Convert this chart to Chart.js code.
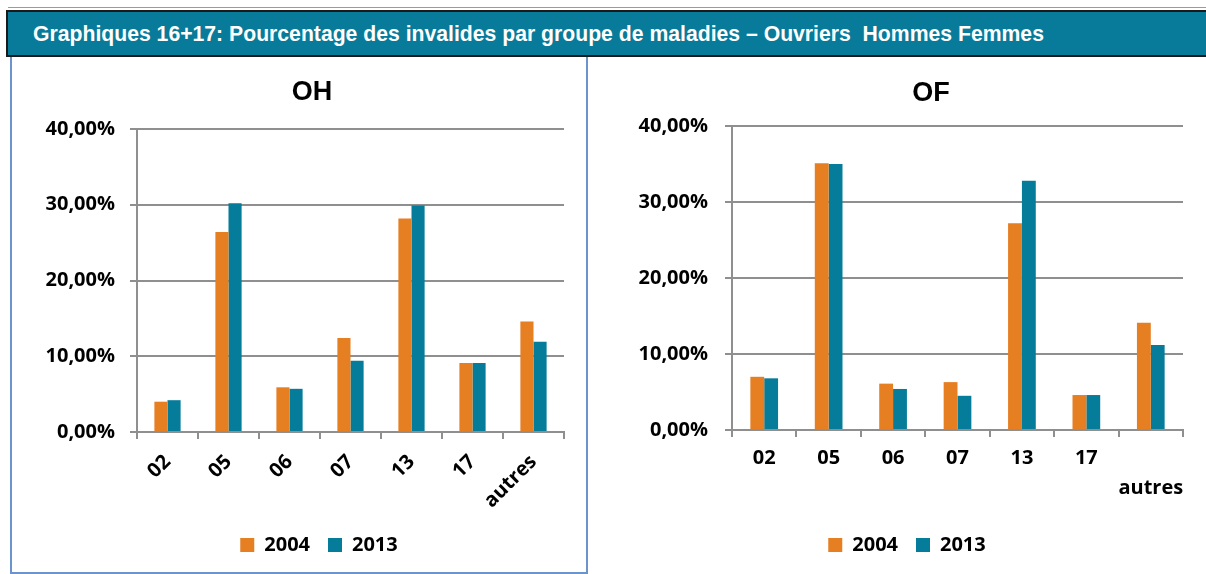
<!DOCTYPE html>
<html>
<head>
<meta charset="utf-8">
<script src="https://cdn.jsdelivr.net/npm/chart.js@4.4.1/dist/chart.umd.min.js"></script>
<style>
  body { margin: 0; width: 1206px; height: 574px; background: #fff; position: relative; overflow: hidden; }
  #topline { position: absolute; left: 8px; top: 7px; width: 1198px; height: 1px; background: #7da0d0; }
  #header {
    position: absolute; left: 6px; top: 10px; width: 1200px; height: 47px; box-sizing: border-box;
    background: #077b99; border-top: 2px solid #1a1a1a; border-bottom: 2px solid #1a1a1a; border-left: 2px solid #1a1a1a;
    color: #fff; font-family: "Liberation Sans", Arial, sans-serif; font-weight: bold; font-size: 21.2px;
    line-height: 43px; padding-left: 25px; white-space: pre;
  }
  #panelLeft {
    position: absolute; left: 10px; top: 57px; width: 578px; height: 517px; box-sizing: border-box;
    border-left: 2px solid #6c94cc; border-right: 2px solid #6c94cc; border-bottom: 2px solid #6c94cc;
  }
  #chartOH { position: absolute; left: 12px; top: 58px; }
  #chartOF { position: absolute; left: 589px; top: 58px; }
</style>
</head>
<body>
<div id="topline"></div>
<div id="header">Graphiques 16+17: Pourcentage des invalides par groupe de maladies – Ouvriers  Hommes Femmes</div>
<div id="panelLeft"></div>
<canvas id="chartOH" width="574" height="514"></canvas>
<canvas id="chartOF" width="617" height="514"></canvas>
<script>
// data (percent)
const categoriesOH = ["02", "05", "06", "07", "13", "17", "autres"];
const categoriesOF = ["02", "05", "06", "07", "13", "17", ["", "autres"]];
const years = ["2004", "2013"];
const oh2004 = [4.0, 26.4, 5.9, 12.4, 28.2, 9.1, 14.6];
const oh2013 = [4.2, 30.2, 5.7, 9.4, 29.9, 9.1, 11.9];
const of2004 = [7.0, 35.1, 6.1, 6.3, 27.2, 4.6, 14.1];
const of2013 = [6.8, 35.0, 5.4, 4.5, 32.8, 4.6, 11.2];
const yTicks = [0, 10, 20, 30, 40];

const ORANGE = "#e67e22";
const TEAL = "#057c9a";
const GRID = "#8f8f8f";

Chart.defaults.font.family = '"Open Sans", sans-serif';
Chart.defaults.font.weight = "bold";
Chart.defaults.color = "#000";

// move title and legend sideways (Excel does not center them on the canvas)
const boxShift = {
  id: "boxShift",
  afterLayout(chart, args, opts) {
    if (chart.titleBlock && opts.titleDx) {
      chart.titleBlock.left += opts.titleDx;
      chart.titleBlock.right += opts.titleDx;
    }
    if (chart.legend && opts.legendDx) {
      chart.legend.left += opts.legendDx;
      chart.legend.right += opts.legendDx;
    }
  }
};

function makeChart(id, cfg) {
  const ctx = document.getElementById(id).getContext("2d");
  return new Chart(ctx, {
    type: "bar",
    data: {
      labels: cfg.labels,
      datasets: [
        { label: years[0], data: cfg.a, backgroundColor: ORANGE },
        { label: years[1], data: cfg.b, backgroundColor: TEAL },
      ],
    },
    plugins: [boxShift],
    options: {
      responsive: false,
      animation: false,
      categoryPercentage: 0.43,
      barPercentage: 1,
      layout: { padding: { left: 0, right: cfg.padRight, top: 0, bottom: 7 } },
      plugins: {
        title: {
          display: true,
          text: cfg.title,
          font: { family: '"Liberation Sans", Arial, sans-serif', size: 27, weight: "bold" },
          padding: { top: cfg.titleTop, bottom: cfg.titleBottom },
        },
        legend: {
          position: "bottom",
          labels: { boxWidth: 14, boxHeight: 14, padding: 18, font: { size: 20 } },
        },
        boxShift: { titleDx: cfg.titleDx, legendDx: cfg.legendDx },
        tooltip: { enabled: false },
      },
      scales: {
        x: {
          afterFit: (s) => { s.height = cfg.xHeight; },
          grid: { drawOnChartArea: false, drawTicks: true, tickLength: 7, color: GRID, lineWidth: 2 },
          border: { display: true, color: GRID, width: 2 },
          ticks: {
            autoSkip: false,
            minRotation: cfg.rotation,
            maxRotation: cfg.rotation,
            padding: cfg.xPad,
            font: { size: 20, lineHeight: 1.5 },
          },
        },
        y: {
          min: 0,
          max: 40,
          afterFit: (s) => { s.width = cfg.yWidth; },
          afterBuildTicks: (s) => { s.ticks = yTicks.map((v) => ({ value: v })); },
          grid: { color: GRID, lineWidth: 2, tickLength: 7 },
          border: { display: true, color: GRID, width: 2 },
          ticks: {
            padding: cfg.yPad,
            font: { size: 20 },
            callback: (v) => v.toFixed(2).replace(".", ",") + "%",
          },
        },
      },
    },
  });
}

makeChart("chartOH", {
  title: "OH", labels: categoriesOH, a: oh2004, b: oh2013,
  padRight: 22, yWidth: 125, xHeight: 85,
  titleTop: 18, titleBottom: 20.6, rotation: 45, xPad: 9, yPad: 15,
  titleDx: 24, legendDx: 31,
});
makeChart("chartOF", {
  title: "OF", labels: categoriesOF, a: of2004, b: of2013,
  padRight: 23, yWidth: 143, xHeight: 87,
  titleTop: 19, titleBottom: 16.6, rotation: 0, xPad: 6, yPad: 17,
  titleDx: 45, legendDx: 21,
});
</script>
</body>
</html>
